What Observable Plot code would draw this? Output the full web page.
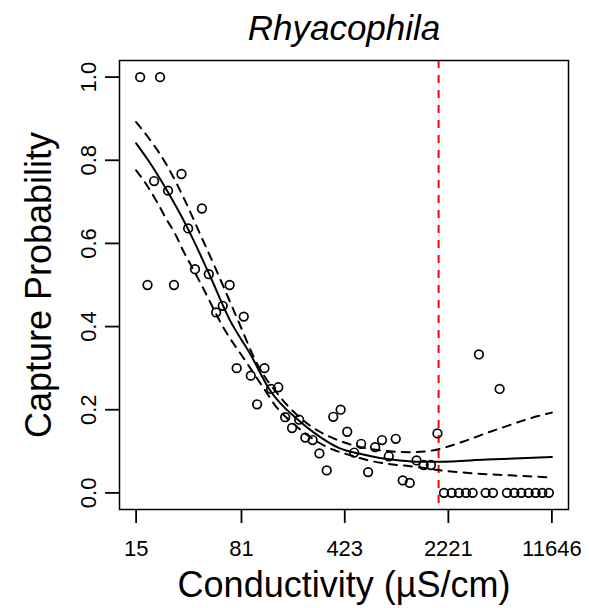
<!DOCTYPE html>
<html><head><meta charset="utf-8">
<script src="https://cdn.jsdelivr.net/npm/d3@7"></script>
<script src="https://cdn.jsdelivr.net/npm/@observablehq/plot@0.6"></script>
<style>body{margin:0;background:#fff}</style>
</head><body><div id="chart"></div>
<script>
// Observed capture probabilities (binned conductivity)
const condObs = [16, 18, 20, 22, 25, 27.5, 31, 34.5, 38.5, 43, 48, 54, 60, 67, 75, 84, 94, 104, 117, 130, 146, 163, 182, 204, 225, 253, 282, 317, 352, 396, 440, 492, 550, 615, 688, 768, 856, 957, 1070, 1197, 1334, 1497, 1680, 1865, 2070, 2342, 2632, 2944, 3277, 3622, 4034, 4535, 5045, 5672, 6386, 7143, 8030, 8980, 9998, 11105];
const probObs = [1.0, 0.5, 0.75, 1.0, 0.727, 0.5, 0.767, 0.636, 0.538, 0.684, 0.526, 0.434, 0.45, 0.5, 0.3, 0.424, 0.282, 0.213, 0.3, 0.25, 0.254, 0.182, 0.156, 0.176, 0.133, 0.127, 0.095, 0.054, 0.183, 0.2, 0.147, 0.097, 0.118, 0.05, 0.11, 0.127, 0.088, 0.13, 0.03, 0.024, 0.078, 0.067, 0.067, 0.143, 0, 0, 0, 0, 0, 0.333, 0, 0, 0.25, 0, 0, 0, 0, 0, 0, 0];

// Fitted curve
const fitCond = [15, 18.2, 24.7, 34.4, 48.2, 67.4, 92.8, 127.8, 200.9, 262.4, 391.4, 538.7, 741.6, 1021, 1406, 1936, 4104, 11646];
const fitProb = [0.841, 0.80, 0.726, 0.635, 0.527, 0.415, 0.335, 0.247, 0.175, 0.143, 0.107, 0.094, 0.084, 0.078, 0.075, 0.075, 0.080, 0.086];

// Upper confidence band
const upperCond = [15, 25.0, 32.8, 41.7, 53.0, 76.6, 103.8, 150, 223.7, 284, 391, 603, 870, 1198, 1650, 2796, 4104, 5924, 8157, 11646];
const upperProb = [0.892, 0.783, 0.703, 0.623, 0.543, 0.415, 0.311, 0.231, 0.171, 0.147, 0.125, 0.107, 0.100, 0.098, 0.101, 0.123, 0.144, 0.163, 0.179, 0.193];

// Lower confidence band
const lowerCond = [15, 18.2, 21.0, 24.2, 28.0, 31.8, 36.7, 41.7, 62.2, 85.7, 118, 138.4, 190.6, 333.5, 459, 603, 829.5, 1142, 1572, 1875, 2796, 4104, 6963, 11646];
const lowerProb = [0.776, 0.735, 0.699, 0.66, 0.623, 0.583, 0.543, 0.507, 0.391, 0.319, 0.247, 0.211, 0.163, 0.107, 0.091, 0.079, 0.070, 0.065, 0.059, 0.055, 0.049, 0.045, 0.041, 0.037];

const threshold = [1900];
const xTicks = [15, 81, 423, 2221, 11646];
const yTicks = [0, 0.2, 0.4, 0.6, 0.8, 1.0];
const title = "Rhyacophila";
const xLabel = "Conductivity (µS/cm)";
const yLabel = "Capture Probability";

const obs = condObs.map((c, i) => ({c, p: probObs[i]}));
const fit = fitCond.map((c, i) => ({c, p: fitProb[i]}));
const upper = upperCond.map((c, i) => ({c, p: upperProb[i]}));
const lower = lowerCond.map((c, i) => ({c, p: lowerProb[i]}));

// R-style 4% padding on axes
const lmin = Math.log(15), lmax = Math.log(11646), pad = 0.04 * (lmax - lmin);
const xDomain = [Math.exp(lmin - pad), Math.exp(lmax + pad)];

const font = "Liberation Sans, Arial, Helvetica, sans-serif";

const chart = Plot.plot({
  width: 589, height: 608,
  marginLeft: 119, marginRight: 21, marginTop: 60, marginBottom: 99,
  style: {fontFamily: font, background: "white", color: "black", overflow: "visible"},
  x: {type: "log", domain: xDomain},
  y: {domain: [-0.04, 1.04]},
  marks: [
    Plot.axisX(xTicks, {tickSize: 14, strokeWidth: 1.8, tickFormat: () => "", label: null}),
    Plot.text(xTicks, {x: d => d, text: d => String(d), frameAnchor: "bottom", dy: 31, lineAnchor: "top", fontSize: 22}),
    Plot.axisY(yTicks, {tickSize: 14, strokeWidth: 1.8, tickFormat: () => "", label: null}),
    Plot.text(yTicks, {y: d => d, text: d => d.toFixed(1), frameAnchor: "left", dx: -24, rotate: -90, textAnchor: "middle", lineAnchor: "bottom", fontSize: 22}),
    Plot.text([yLabel], {text: d => d, frameAnchor: "left", dx: -69, rotate: -90, textAnchor: "middle", lineAnchor: "bottom", fontSize: 36}),
    Plot.text([xLabel], {text: d => d, frameAnchor: "bottom", dy: 87, lineAnchor: "bottom", fontSize: 36}),
    Plot.text([title], {text: d => d, frameAnchor: "top", dy: -21, lineAnchor: "bottom", fontSize: 35, fontStyle: "italic"}),
    Plot.ruleX(threshold, {x: d => d, stroke: "red", strokeWidth: 2, strokeDasharray: "8,7"}),
    Plot.line(upper, {x: "c", y: "p", stroke: "black", strokeWidth: 2, strokeDasharray: "8,7", curve: "monotone-x"}),
    Plot.line(lower, {x: "c", y: "p", stroke: "black", strokeWidth: 2, strokeDasharray: "8,7", curve: "monotone-x"}),
    Plot.line(fit, {x: "c", y: "p", stroke: "black", strokeWidth: 2, curve: "monotone-x"}),
    Plot.dot(obs, {x: "c", y: "p", r: 4.3, stroke: "black", strokeWidth: 1.7, fill: "none"}),
    Plot.frame({stroke: "black", strokeWidth: 1.5})
  ]
});
document.getElementById("chart").appendChild(chart);
</script>
</body></html>
